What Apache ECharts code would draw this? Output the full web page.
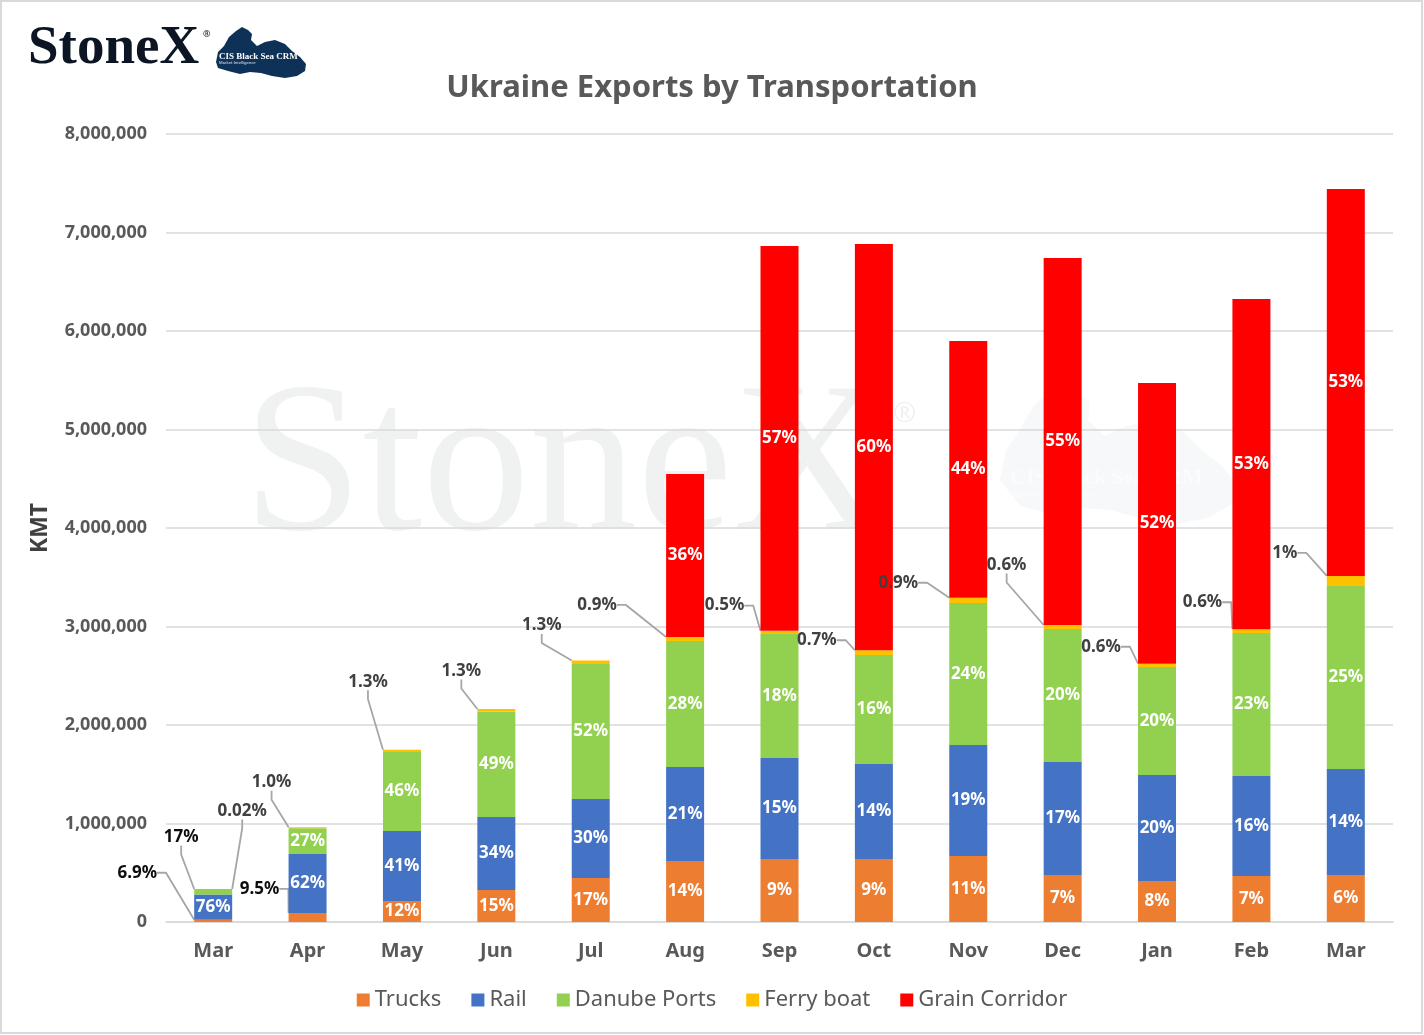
<!DOCTYPE html>
<html>
<head>
<meta charset="utf-8">
<title>Ukraine Exports by Transportation</title>
<script src="https://cdn.jsdelivr.net/npm/echarts@6/dist/echarts.min.js"></script>
<style>
  html, body { margin: 0; padding: 0; background: #fff; }
  #chart { width: 1424px; height: 1035px; }
</style>
</head>
<body>
<div id="chart"></div>
<script>
// data, tonnes
var months = ['Mar', 'Apr', 'May', 'Jun', 'Jul', 'Aug', 'Sep', 'Oct', 'Nov', 'Dec', 'Jan', 'Feb', 'Mar'];
var trucks = [23000, 92000, 212000, 325000, 447000, 619000, 640000, 640000, 670000, 477000, 416000, 467000, 477000];
var rail = [255000, 598000, 712000, 741000, 802000, 955000, 1025000, 964000, 1127000, 1147000, 1076000, 1015000, 1076000];
var danube = [57000, 262000, 802000, 1068000, 1371000, 1279000, 1259000, 1107000, 1442000, 1351000, 1097000, 1452000, 1858000];
var ferry = [70, 10000, 23000, 28000, 35000, 41000, 34000, 48000, 53000, 40000, 33000, 38000, 102000];
var grain = [0, 0, 0, 0, 0, 1654000, 3905000, 4124000, 2606000, 3726000, 2850000, 3353000, 3929000];

// share labels as printed on the chart
var pctTrucks = ['6.9%', '9.5%', '12%', '15%', '17%', '14%', '9%', '9%', '11%', '7%', '8%', '7%', '6%'];
var pctRail = ['76%', '62%', '41%', '34%', '30%', '21%', '15%', '14%', '19%', '17%', '20%', '16%', '14%'];
var pctDanube = ['17%', '27%', '46%', '49%', '52%', '28%', '18%', '16%', '24%', '20%', '20%', '23%', '25%'];
var pctFerry = ['0.02%', '1.0%', '1.3%', '1.3%', '1.3%', '0.9%', '0.5%', '0.7%', '0.9%', '0.6%', '0.6%', '0.6%', '1%'];
var pctGrain = ['', '', '', '', '', '36%', '57%', '60%', '44%', '55%', '52%', '53%', '53%'];

var yTicks = [0, 1000000, 2000000, 3000000, 4000000, 5000000, 6000000, 7000000, 8000000];

// callout labels: offset of the label centre from the segment's top-left corner
var calloutTrucks = { 0: [-57, -47], 1: [-29, -24] };
var calloutDanube = { 0: [-13, -52] };
var calloutFerry = {
    0: [48, -78], 1: [-17, -45], 2: [-15, -68], 3: [-16, -38], 4: [-30, -35],
    5: [-69, -32], 6: [-36, -25], 7: [-38, -10], 8: [-51, -15], 9: [-37, -60],
    10: [-37, -17], 11: [-30, -27], 12: [-42, -23]
};

var FONT = '"Noto Sans", "Open Sans", sans-serif';
var SERIF = '"Liberation Serif", "DejaVu Serif", serif';
var GREY = '#595959';

function makeSeries(name, values, pcts, color, callouts, calloutColor) {
    return {
        name: name,
        type: 'bar',
        stack: 'total',
        barWidth: 38,
        itemStyle: { color: color },
        label: {
            show: true,
            position: 'inside',
            color: '#fff',
            fontFamily: FONT,
            fontWeight: 'bold',
            fontSize: 17,
            formatter: function (p) { return pcts[p.dataIndex]; }
        },
        labelLine: { show: false, length2: 9, lineStyle: { color: '#A6A6A6', width: 1.8 } },
        labelLayout: function (p) {
            var off = callouts[p.dataIndex];
            if (!off) return {};
            return {
                x: p.rect.x + off[0],
                y: p.rect.y + off[1],
                align: 'center',
                verticalAlign: 'middle'
            };
        },
        data: values.map(function (v, i) {
            if (!callouts[i]) return v;
            return { value: v, label: { color: calloutColor }, labelLine: { show: true } };
        })
    };
}

var chart = echarts.init(document.getElementById('chart'));

var option = {
    animation: false,
    backgroundColor: '#fff',
    title: {
        text: 'Ukraine Exports by Transportation',
        left: 'center',
        top: 68,
        textStyle: { fontFamily: FONT, fontSize: 31, fontWeight: 'bold', color: GREY }
    },
    grid: { left: 166, right: 31, top: 134, bottom: 113 },
    legend: {
        bottom: 19,
        left: 'center',
        icon: 'rect',
        itemWidth: 13,
        itemHeight: 13,
        itemGap: 30,
        textStyle: { fontFamily: FONT, fontSize: 22, color: GREY }
    },
    xAxis: {
        type: 'category',
        data: months,
        axisTick: { show: false },
        axisLine: { lineStyle: { color: '#D9D9D9', width: 1.5 } },
        axisLabel: { fontFamily: FONT, fontSize: 20, fontWeight: 'bold', color: GREY, margin: 19 }
    },
    yAxis: {
        type: 'value',
        min: yTicks[0],
        max: yTicks[yTicks.length - 1],
        interval: yTicks[1] - yTicks[0],
        axisLine: { show: false },
        axisTick: { show: false },
        splitLine: { lineStyle: { color: '#D9D9D9', width: 1.5 } },
        axisLabel: {
            fontFamily: FONT, fontSize: 18, fontWeight: 'bold', color: GREY, margin: 19,
            formatter: function (v) { return v.toLocaleString('en-US'); }
        }
    },
    series: [
        makeSeries('Trucks', trucks, pctTrucks, '#ED7D31', calloutTrucks, '#0d0d0d'),
        makeSeries('Rail', rail, pctRail, '#4472C4', {}, '#404040'),
        makeSeries('Danube Ports', danube, pctDanube, '#92D050', calloutDanube, '#0d0d0d'),
        makeSeries('Ferry boat', ferry, pctFerry, '#FFC000', calloutFerry, '#404040'),
        makeSeries('Grain Corridor', grain, pctGrain, '#FF0000', {}, '#404040')
    ],
    graphic: [
        // frame
        { type: 'rect', silent: true, shape: { x: 1, y: 1, width: 1421, height: 1032 },
          style: { fill: 'none', stroke: '#D9D9D9', lineWidth: 2 } },
        // y axis title
        { type: 'text', x: 40, y: 528, rotation: Math.PI / 2,
          style: { text: 'KMT', fontFamily: FONT, fontSize: 23, fontWeight: 'bold', fill: '#404040',
                   textAlign: 'center', textVerticalAlign: 'middle' } },
        // logo
        { type: 'text', x: 28, y: 49,
          style: { text: 'StoneX', fontFamily: SERIF, fontSize: 55, fontWeight: 'bold',
                   fill: '#0b1524', textVerticalAlign: 'middle' } },
        { type: 'text', x: 203, y: 30,
          style: { text: '®', fontFamily: FONT, fontSize: 9, fill: '#0b1524' } },
        { type: 'polygon', silent: true,
          shape: { points: [[216, 62], [218, 52], [224, 46], [229, 37], [236, 31], [242, 27], [248, 30], [252, 34],
                            [251, 40], [257, 46], [265, 42], [275, 40], [285, 44], [292, 51], [300, 57], [306, 64],
                            [305, 71], [297, 76], [285, 78], [272, 76], [261, 73], [250, 72], [240, 74], [228, 71], [218, 68]] },
          style: { fill: '#0e3157' } },
        { type: 'text', x: 219, y: 57,
          style: { text: 'CIS Black Sea CRM', fontFamily: SERIF, fontSize: 9, fontWeight: 'bold',
                   fill: '#fff', textVerticalAlign: 'middle' } },
        { type: 'text', x: 219, y: 63,
          style: { text: 'Market Intelligence', fontFamily: FONT, fontSize: 4, fill: '#dfe6ee', textVerticalAlign: 'middle' } },
        // watermark
        { type: 'group', silent: true, z: 100, children: [
            { type: 'text', x: 243, y: 473,
              style: { text: 'StoneX', fontFamily: SERIF, fontSize: 215,
                       fill: '#203828', opacity: 0.065, textVerticalAlign: 'middle' } },
            { type: 'text', x: 893, y: 400,
              style: { text: '®', fontFamily: FONT, fontSize: 28, fill: '#203828', opacity: 0.065 } },
            { type: 'polygon',
              shape: { points: [[1000, 480], [1006, 450], [1020, 430], [1034, 405], [1050, 392], [1066, 386], [1080, 394],
                                [1090, 402], [1088, 420], [1104, 436], [1126, 426], [1156, 420], [1184, 432], [1204, 452],
                                [1222, 466], [1236, 484], [1232, 504], [1208, 518], [1176, 524], [1140, 518], [1110, 510],
                                [1080, 508], [1050, 514], [1020, 506]] },
              style: { fill: '#2a3f5a', opacity: 0.035 } },
            { type: 'text', x: 1010, y: 478,
              style: { text: 'CIS Black Sea CRM', fontFamily: SERIF, fontSize: 22, fontWeight: 'bold',
                       fill: '#ffffff', opacity: 0.5, textVerticalAlign: 'middle' } },
            { type: 'text', x: 1012, y: 495,
              style: { text: 'Market Intelligence', fontFamily: FONT, fontSize: 9, fill: '#ffffff', opacity: 0.5,
                       textVerticalAlign: 'middle' } }
        ] }
    ]
};

chart.setOption(option);
</script>
</body>
</html>
